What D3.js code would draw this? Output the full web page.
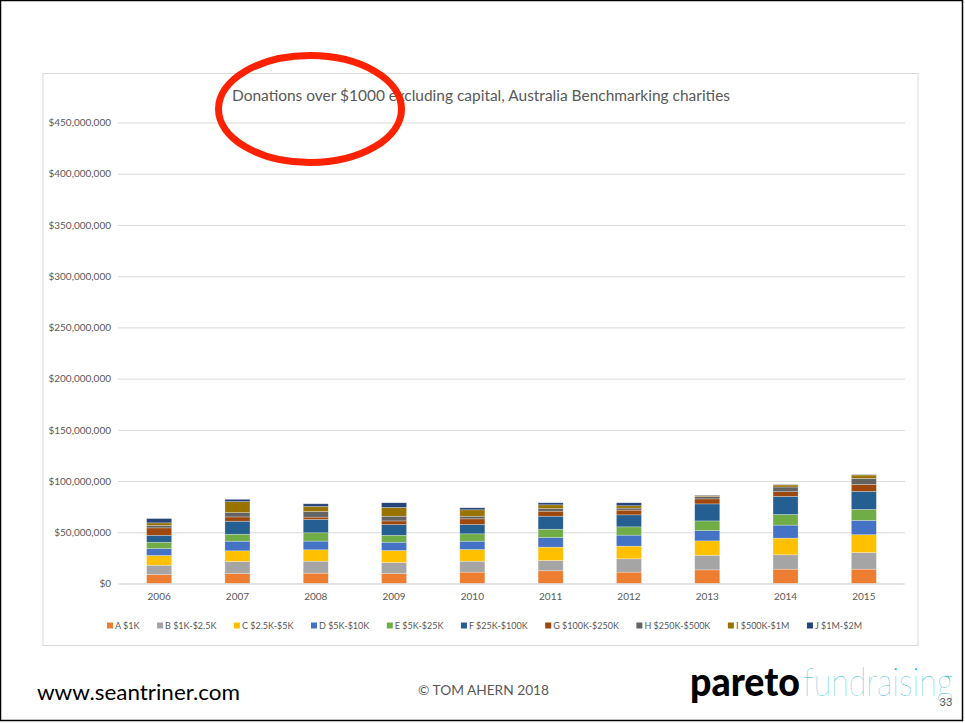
<!DOCTYPE html>
<html><head><meta charset="utf-8">
<script src="https://cdn.jsdelivr.net/npm/d3@7"></script>
<style>body{margin:0;background:#fff}svg{display:block}</style>
</head><body>
<svg id="c" width="965" height="723"></svg>
<script>
const years = ["2006","2007","2008","2009","2010","2011","2012","2013","2014","2015"];
const seriesNames = ["A $1K","B $1K-$2.5K","C $2.5K-$5K","D $5K-$10K","E $5K-$25K","F $25K-$100K","G $100K-$250K","H $250K-$500K","I $500K-$1M","J $1M-$2M"];
const seriesColors = ["#ED7D31","#A5A5A5","#FFC000","#4472C4","#70AD47","#255E91","#9E480E","#636363","#997300","#264478"];
// values in millions of dollars
const A = [8.8, 9.8, 10.1, 9.8, 11.1, 12.4, 11.1, 13.3, 14.0, 14.0];
const B = [9.1, 11.7, 11.7, 10.7, 10.7, 10.1, 13.0, 14.3, 14.0, 16.3];
const C = [9.4, 10.4, 11.1, 11.7, 11.4, 13.0, 12.4, 14.0, 16.3, 17.3];
const D = [6.8, 9.4, 8.5, 8.1, 8.1, 9.4, 10.7, 10.1, 12.7, 14.0];
const E = [6.2, 6.8, 8.1, 6.8, 7.2, 8.1, 8.1, 9.4, 10.4, 10.7];
const F = [6.8, 12.7, 13.0, 10.4, 9.1, 12.7, 11.7, 16.6, 17.6, 17.6];
const G = [7.2, 4.2, 2.3, 3.6, 5.5, 4.9, 4.6, 4.9, 4.6, 6.8];
const H = [2.3, 4.2, 5.5, 4.6, 2.6, 2.6, 2.0, 2.3, 4.6, 5.9];
const I = [2.6, 10.7, 4.9, 8.5, 6.2, 3.6, 2.3, 1.0, 2.0, 3.3];
const J = [4.2, 2.3, 2.6, 4.6, 2.0, 2.0, 2.9, 0.4, 0.4, 0.4];
const yTicks = [0,50e6,100e6,150e6,200e6,250e6,300e6,350e6,400e6,450e6];
const title = "Donations over $1000 excluding capital, Australia Benchmarking charities";

const seriesVals = [A,B,C,D,E,F,G,H,I,J];
const keys = seriesNames;
const table = years.map((y,i)=>{const o={year:y}; keys.forEach((k,j)=>o[k]=seriesVals[j][i]*1e6); return o;});
const stack = d3.stack().keys(keys)(table);

const svg = d3.select("#c");
const FONT = "Lato, 'Open Sans', sans-serif";
const grey = "#595959";

// slide border
svg.append("rect").attr("x",0.5).attr("y",0.5).attr("width",962).attr("height",720)
  .attr("fill","none").attr("stroke","#000").attr("stroke-width",1.5);

// chart frame
svg.append("rect").attr("x",43).attr("y",73.5).attr("width",875).attr("height",572)
  .attr("fill","#fff").attr("stroke","#d9d9d9").attr("stroke-width",1);

const x = d3.scaleBand().domain(years).range([120,903]).paddingInner(0.68).paddingOuter(0.34);
const y = d3.scaleLinear().domain([0,450e6]).range([583.5,122.5]);

// gridlines
const yAxis = d3.axisLeft(y).tickValues(yTicks).tickSize(-787)
  .tickFormat(d=>"$"+d3.format(",")(d));
const ga = svg.append("g").attr("transform","translate(118,0)").call(yAxis);
ga.select(".domain").remove();
ga.selectAll(".tick line").attr("stroke","#d9d9d9").attr("stroke-width",1);
ga.selectAll(".tick text").attr("x",-7).attr("fill",grey).attr("font-family",FONT).attr("font-size",10);

// bars
svg.append("g").selectAll("g").data(stack).join("g")
  .attr("fill",(d,i)=>seriesColors[i])
  .selectAll("rect").data(d=>d).join("rect")
  .attr("x",d=>x(d.data.year)).attr("width",x.bandwidth())
  .attr("y",d=>y(d[1])).attr("height",d=>y(d[0])-y(d[1]))
  .attr("stroke","rgba(255,255,255,0.45)").attr("stroke-width",0.6);

// x axis
const xa = svg.append("g").attr("transform","translate(0,583.5)").call(d3.axisBottom(x).tickSize(0));
xa.select(".domain").attr("stroke","#d9d9d9");
xa.selectAll(".tick text").attr("dy","1.35em").attr("fill",grey).attr("font-family",FONT).attr("font-size",10);

// title
svg.append("text").attr("x",481).attr("y",101).attr("text-anchor","middle")
  .attr("font-family",FONT).attr("font-size",15.5).attr("fill",grey)
  .attr("textLength",498).attr("lengthAdjust","spacingAndGlyphs").text(title);

// legend
const lg = svg.append("g").attr("font-family",FONT).attr("font-size",9).attr("fill",grey);
const items = lg.selectAll("g").data(keys).join("g");
items.append("rect").attr("width",6).attr("height",6).attr("y",-6.5).attr("fill",(d,i)=>seriesColors[i]);
items.append("text").attr("x",8).attr("y",0).attr("fill",grey).text(d=>d);
const widths = [];
items.each(function(){widths.push(d3.select(this).select("text").node().getComputedTextLength()+8);});
const startX = 107, endX = 862;
const gap = (endX - startX - d3.sum(widths)) / (keys.length-1);
let cx = startX;
items.attr("transform",(d,i)=>{const t=`translate(${cx},629)`; cx += widths[i]+gap; return t;});

// red ellipse annotation
svg.append("ellipse").attr("cx",310).attr("cy",109).attr("rx",91.5).attr("ry",53.5)
  .attr("fill","none").attr("stroke","#FF2200").attr("stroke-width",7);

// footer
svg.append("text").attr("x",37).attr("y",700).attr("font-family",FONT).attr("font-size",22)
  .attr("fill","#000").attr("textLength",203).attr("lengthAdjust","spacingAndGlyphs").text("www.seantriner.com");
svg.append("text").attr("x",418).attr("y",695).attr("font-family",FONT)
  .attr("font-size",13).attr("fill",grey).attr("textLength",131).attr("lengthAdjust","spacingAndGlyphs").text("© TOM AHERN 2018");
svg.append("text").attr("x",690).attr("y",696).attr("font-size",40).attr("font-family","Lato, sans-serif")
  .attr("font-weight",900).attr("fill","#000").attr("textLength",110).attr("lengthAdjust","spacingAndGlyphs").text("pareto");
svg.append("text").attr("x",803).attr("y",696).attr("font-size",40).attr("font-family","Lato, sans-serif")
  .attr("font-weight",100).attr("fill","#22B4DA").attr("textLength",150).attr("lengthAdjust","spacingAndGlyphs").text("fundraising");
svg.append("text").attr("x",946).attr("y",706).attr("text-anchor","middle").attr("font-family",FONT)
  .attr("font-size",11).attr("fill",grey).text("33");
</script>
</body></html>
